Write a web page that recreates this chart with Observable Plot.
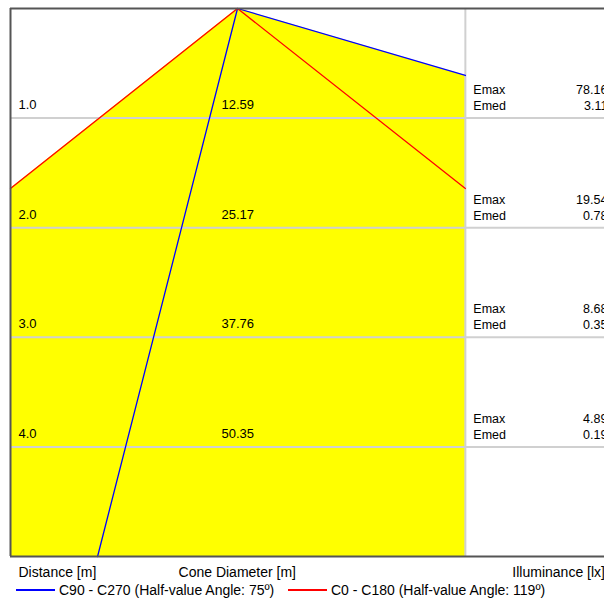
<!DOCTYPE html>
<html>
<head>
<meta charset="utf-8">
<script src="https://cdn.jsdelivr.net/npm/d3@7"></script>
<script src="https://cdn.jsdelivr.net/npm/@observablehq/plot@0.6"></script>
<style>
  body { margin: 0; background: #fff; font-family: "Liberation Sans", Arial, sans-serif; }
  #chart { width: 604px; height: 600px; overflow: hidden; position: relative; }
  .legend { position: relative; height: 20px; font-size: 14px; color: #000; }
  .legend .item { position: absolute; top: 2px; display: flex; align-items: center; white-space: nowrap; }
  .legend .sw { display: inline-block; width: 39px; height: 0; border-top: 2px solid; margin-right: 4px; }
</style>
</head>
<body>
<div id="chart"></div>
<script>
// ---- data ----
const distances = [1, 2, 3, 4];
const distanceLabels = ["1.0", "2.0", "3.0", "4.0"];
const coneDiameters = ["12.59", "25.17", "37.76", "50.35"];
const emaxValues = ["78.16", "19.54", "8.68", "4.89"];
const emedValues = ["3.11", "0.78", "0.35", "0.19"];
// cone outlines (horizontal offset [m], distance [m])
const c90X = [-1.72, 0, 2.80];
const c90Y = [5, 0, 0.611];
const c0X = [-2.79, 0, 2.80];
const c0Y = [1.642, 0, 1.642];
const seriesNames = ["C90 - C270 (Half-value Angle: 75º)", "C0 - C180 (Half-value Angle: 119º)"];
const seriesColors = ["#0000ff", "#ff0000"];
const footerLabels = ["Distance [m]", "Cone Diameter [m]", "Illuminance [lx]"];

const xLeft = -2.79, xFrameRight = 2.80, xRight = 4.51, yMax = 5;

const c90 = c90X.map((x, i) => ({x, y: c90Y[i]}));
const c0 = c0X.map((x, i) => ({x, y: c0Y[i]}));
// outer envelope of the two cones
const envelope = [c0[0], c0[1], c90[2]];
const rows = distances.map((d, i) => ({d, label: distanceLabels[i], dia: coneDiameters[i], emax: emaxValues[i], emed: emedValues[i]}));

const txt = {fontSize: 13, fill: "#000", textAnchor: "start"};
const foot = {y: yMax, dy: 16, fontSize: 14, fill: "#000", textAnchor: "start"};

const plot = Plot.plot({
  width: 604,
  height: 580,
  marginLeft: 10,
  marginRight: 0,
  marginTop: 8,
  marginBottom: 24,
  style: {fontFamily: "'Liberation Sans', Arial, sans-serif", background: "#fff", overflow: "visible"},
  x: {domain: [xLeft, xRight], axis: null},
  y: {domain: [0, yMax], reverse: true, axis: null},
  marks: [
    Plot.areaY(envelope, {x: "x", y1: yMax, y2: "y", fill: "#ffff00"}),
    Plot.ruleY(distances, {y: d => d, stroke: "#d0d0d0", strokeWidth: 2}),
    Plot.ruleX([xFrameRight], {y1: 0, y2: yMax, stroke: "#d0d0d0", strokeWidth: 2}),
    Plot.line(c90, {x: "x", y: "y", stroke: seriesColors[0], strokeWidth: 1.3}),
    Plot.line(c0, {x: "x", y: "y", stroke: seriesColors[1], strokeWidth: 1.3}),
    Plot.ruleY([0, yMax], {stroke: "#555", strokeWidth: 2}),
    Plot.ruleX([xLeft], {y1: 0, y2: yMax, stroke: "#555", strokeWidth: 2}),
    Plot.text(rows, {x: xLeft, y: "d", text: "label", dx: 8, dy: -13, ...txt}),
    Plot.text(rows, {x: 0, y: "d", text: "dia", dx: -16, dy: -13, ...txt}),
    Plot.text(rows, {x: xFrameRight, y: "d", text: () => "Emax", dx: 8, dy: -28, ...txt, fontSize: 12.5}),
    Plot.text(rows, {x: xFrameRight, y: "d", text: () => "Emed", dx: 8, dy: -12, ...txt, fontSize: 12.5}),
    Plot.text(rows, {x: xFrameRight, y: "d", text: "emax", dx: 142, dy: -28, ...txt, fontSize: 12.5, textAnchor: "end"}),
    Plot.text(rows, {x: xFrameRight, y: "d", text: "emed", dx: 142, dy: -12, ...txt, fontSize: 12.5, textAnchor: "end"}),
    Plot.text([footerLabels[0]], {x: xLeft, text: d => d, dx: 8, ...foot}),
    Plot.text([footerLabels[1]], {x: 0, text: d => d, dx: -59, ...foot}),
    Plot.text([footerLabels[2]], {x: xFrameRight, text: d => d, dx: 47, ...foot})
  ]
});
document.getElementById("chart").append(plot);

const legend = document.createElement("div");
legend.className = "legend";
const lefts = [16, 288];
seriesNames.forEach((name, i) => {
  const item = document.createElement("div");
  item.className = "item";
  item.style.left = lefts[i] + "px";
  const sw = document.createElement("span");
  sw.className = "sw";
  sw.style.borderTopColor = seriesColors[i];
  item.append(sw, document.createTextNode(name));
  legend.append(item);
});
document.getElementById("chart").append(legend);
</script>
</body>
</html>
